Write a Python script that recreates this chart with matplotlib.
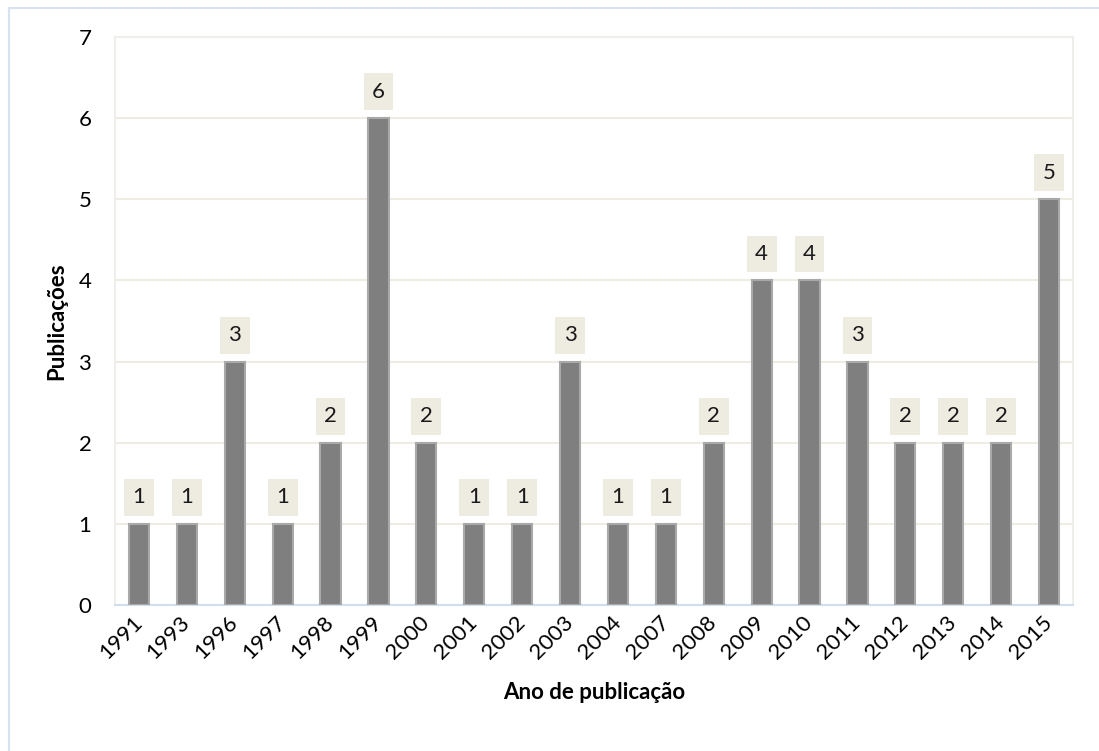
import matplotlib.pyplot as plt
import numpy as np
from matplotlib.patches import Rectangle

years = ["1991", "1993", "1996", "1997", "1998", "1999", "2000", "2001", "2002", "2003",
         "2004", "2007", "2008", "2009", "2010", "2011", "2012", "2013", "2014", "2015"]
publications = [1, 1, 3, 1, 2, 6, 2, 1, 1, 3, 1, 1, 2, 4, 4, 3, 2, 2, 2, 5]

plt.rcParams["font.family"] = ["Lato", "DejaVu Sans"]

W, H = 1099, 751
fig = plt.figure(figsize=(W / 100, H / 100), dpi=100)
ax = fig.add_axes([115 / W, 1 - 605 / H, (1073 - 115) / W, (605 - 37) / H])

x = np.arange(len(years))
bars = ax.bar(x, publications, width=0.42, color="#7f7f7f", edgecolor="#a9a9a9",
              linewidth=1.5, zorder=3)

# data labels on beige boxes
for rect, v in zip(bars, publications):
    ax.annotate(str(v), (rect.get_x() + rect.get_width() / 2, v),
                xytext=(0, 19), textcoords="offset points", ha="center", va="center",
                fontsize=16, color="#1a1a1a", zorder=4,
                bbox=dict(boxstyle="square,pad=0.38", fc="#eeebe0", ec="none"))

ax.set_xlim(-0.5, len(years) - 0.5)
ax.set_ylim(0, 7)
ax.set_yticks(range(8))
ax.yaxis.grid(True, color="#efece4", linewidth=1.5, zorder=0)
ax.set_xticks(x)
ax.set_xticklabels(years, rotation=45, ha="right", va="center", rotation_mode="anchor")
ax.tick_params(axis="x", length=0, pad=10, labelsize=16)
ax.tick_params(axis="y", length=0, pad=17, labelsize=16)

for side in ("top", "right", "left"):
    ax.spines[side].set_color("#efeeea")
    ax.spines[side].set_linewidth(1.5)
ax.spines["bottom"].set_color("#d0dff0")
ax.spines["bottom"].set_linewidth(1.5)

ax.set_ylabel("Publicações", fontsize=16, fontweight="bold", labelpad=8)
ax.set_xlabel("Ano de publicação", fontsize=16, fontweight="bold", labelpad=14)

fig.patches.append(Rectangle((9 / W, -0.1), 1.2, 1 - 8 / H + 0.1, transform=fig.transFigure,
                             fill=False, ec="#d6e3f3", lw=1.5))

fig.savefig("out.png", dpi=100)
